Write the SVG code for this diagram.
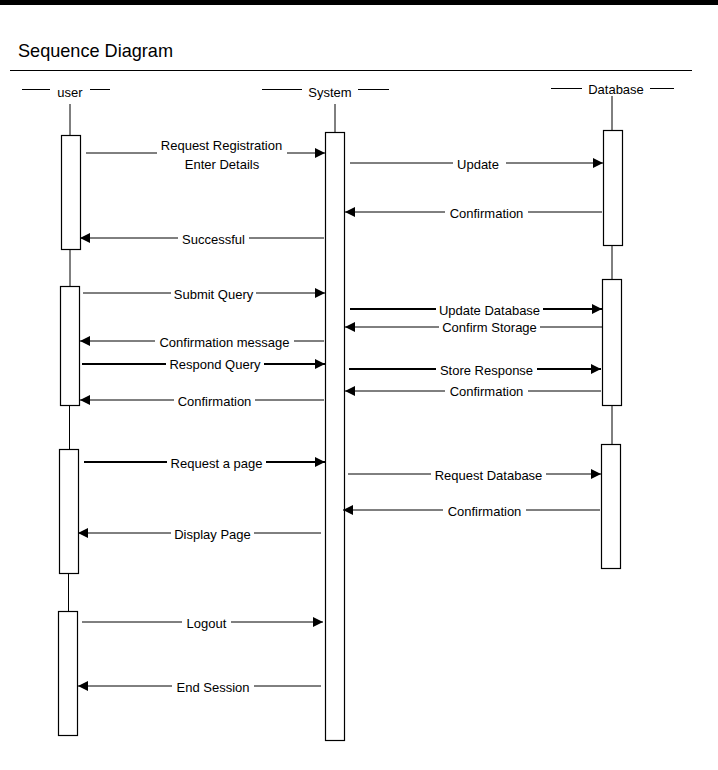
<svg xmlns="http://www.w3.org/2000/svg" width="718" height="770" viewBox="0 0 718 770">
<style>
text{font-family:"Liberation Sans",Arial,sans-serif;font-size:13px;fill:#000}
.lbl{text-anchor:middle}
.bg{fill:#fff}
.msg{stroke:#000;stroke-width:1;fill:none}
.thick{stroke-width:2}
.life{stroke:#000;stroke-width:1}
.act{fill:#fff;stroke:#000;stroke-width:1.2}
.hd{stroke:#000;stroke-width:1}
</style>
<defs>
<marker id="ah" markerUnits="userSpaceOnUse" markerWidth="11" markerHeight="10" refX="10" refY="5" orient="auto">
<path d="M0,0 L10,5 L0,10 z" fill="#000"/>
</marker>
</defs>
<rect x="0" y="0" width="718" height="770" fill="#fff"/>
<rect x="0" y="0" width="718" height="5" fill="#000"/>
<text x="18" y="57" style="font-size:19px" textLength="155" lengthAdjust="spacingAndGlyphs">Sequence Diagram</text>
<line x1="10" y1="70.5" x2="692" y2="70.5" stroke="#000" stroke-width="1"/>

<g id="user">
<line class="hd" x1="22" y1="89.5" x2="50" y2="89.5"/>
<text x="70" y="97" class="lbl">user</text>
<line class="hd" x1="90" y1="89.5" x2="110" y2="89.5"/>
<line class="life" x1="70" y1="104" x2="70" y2="135"/>
<line class="life" x1="70" y1="249" x2="70" y2="286"/>
<line class="life" x1="69.5" y1="405" x2="69.5" y2="449"/>
<line class="life" x1="68.5" y1="573" x2="68.5" y2="611"/>
<rect class="act" x="61.5" y="135.5" width="19" height="114"/>
<rect class="act" x="60.5" y="286.5" width="19" height="119"/>
<rect class="act" x="59.5" y="449.5" width="19" height="124"/>
<rect class="act" x="58.5" y="611.5" width="19" height="124"/>
</g>

<g id="system">
<line class="hd" x1="262" y1="89.5" x2="302" y2="89.5"/>
<text x="330" y="97" class="lbl">System</text>
<line class="hd" x1="358" y1="89.5" x2="389" y2="89.5"/>
<line class="life" x1="335" y1="104" x2="335" y2="132"/>
<rect class="act" x="325.5" y="132.5" width="19" height="608"/>
</g>

<g id="database">
<line class="hd" x1="551" y1="88.5" x2="582" y2="88.5"/>
<text x="616" y="94" class="lbl">Database</text>
<line class="hd" x1="650" y1="88.5" x2="674" y2="88.5"/>
<line class="life" x1="612" y1="96" x2="612" y2="130"/>
<line class="life" x1="612" y1="245" x2="612" y2="279"/>
<line class="life" x1="612" y1="405" x2="612" y2="444"/>
<rect class="act" x="603.5" y="130.5" width="19" height="115"/>
<rect class="act" x="602.5" y="279.5" width="19" height="126"/>
<rect class="act" x="601.5" y="444.5" width="19" height="124"/>
</g>

<g id="connectors">
<line class="msg" x1="86" y1="153" x2="325" y2="153" marker-end="url(#ah)"/>
<rect class="bg" x="157" y="138" width="130" height="36"/>
<text class="lbl" x="221.5" y="150">Request Registration</text>
<text class="lbl" x="222" y="169">Enter Details</text>

<line class="msg" x1="350" y1="163" x2="603" y2="163" marker-end="url(#ah)"/>
<rect class="bg" x="453" y="155" width="53" height="17"/>
<text class="lbl" x="478" y="169">Update</text>

<line class="msg" x1="602" y1="212" x2="345" y2="212" marker-end="url(#ah)"/>
<rect class="bg" x="445" y="204" width="83" height="17"/>
<text class="lbl" x="486.5" y="218">Confirmation</text>

<line class="msg" x1="324" y1="238" x2="80" y2="238" marker-end="url(#ah)"/>
<rect class="bg" x="178" y="230" width="71" height="17"/>
<text class="lbl" x="213.5" y="244">Successful</text>

<line class="msg" x1="83" y1="293" x2="325" y2="293" marker-end="url(#ah)"/>
<rect class="bg" x="171" y="285" width="85" height="17"/>
<text class="lbl" x="213.5" y="299">Submit Query</text>

<line class="msg thick" x1="350" y1="309" x2="602" y2="309" marker-end="url(#ah)"/>
<rect class="bg" x="436" y="301" width="107" height="17"/>
<text class="lbl" x="489.5" y="315">Update Database</text>

<line class="msg" x1="602" y1="327" x2="345" y2="327" marker-end="url(#ah)"/>
<rect class="bg" x="439" y="319" width="101" height="16"/>
<text class="lbl" x="489.5" y="332">Confirm Storage</text>

<line class="msg" x1="324" y1="341" x2="80" y2="341" marker-end="url(#ah)"/>
<rect class="bg" x="155" y="333" width="139" height="17"/>
<text class="lbl" x="224.5" y="347">Confirmation message</text>

<line class="msg thick" x1="82" y1="364" x2="325" y2="364" marker-end="url(#ah)"/>
<rect class="bg" x="166" y="356" width="98" height="16"/>
<text class="lbl" x="215" y="369">Respond Query</text>

<line class="msg thick" x1="349" y1="369" x2="601" y2="369" marker-end="url(#ah)"/>
<rect class="bg" x="436" y="361" width="101" height="17"/>
<text class="lbl" x="486.5" y="375">Store Response</text>

<line class="msg" x1="601" y1="391" x2="345" y2="391" marker-end="url(#ah)"/>
<rect class="bg" x="445" y="383" width="83" height="16"/>
<text class="lbl" x="486.5" y="396">Confirmation</text>

<line class="msg" x1="324" y1="400" x2="80" y2="400" marker-end="url(#ah)"/>
<rect class="bg" x="174" y="392" width="81" height="17"/>
<text class="lbl" x="214.5" y="406">Confirmation</text>

<line class="msg thick" x1="84" y1="462" x2="325" y2="462" marker-end="url(#ah)"/>
<rect class="bg" x="167" y="454" width="99" height="17"/>
<text class="lbl" x="216.5" y="468">Request a page</text>

<line class="msg" x1="348" y1="474" x2="601" y2="474" marker-end="url(#ah)"/>
<rect class="bg" x="431" y="466" width="115" height="17"/>
<text class="lbl" x="488.5" y="480">Request Database</text>

<line class="msg" x1="600" y1="510" x2="343" y2="510" marker-end="url(#ah)"/>
<rect class="bg" x="443" y="502" width="83" height="17"/>
<text class="lbl" x="484.5" y="516">Confirmation</text>

<line class="msg" x1="321" y1="533" x2="78" y2="533" marker-end="url(#ah)"/>
<rect class="bg" x="171" y="525" width="83" height="17"/>
<text class="lbl" x="212.5" y="539">Display Page</text>

<line class="msg" x1="82" y1="622" x2="323" y2="622" marker-end="url(#ah)"/>
<rect class="bg" x="182" y="614" width="49" height="17"/>
<text class="lbl" x="206.5" y="628">Logout</text>

<line class="msg" x1="321" y1="686" x2="78" y2="686" marker-end="url(#ah)"/>
<rect class="bg" x="172" y="678" width="82" height="17"/>
<text class="lbl" x="213" y="692">End Session</text>
</g>
</svg>
